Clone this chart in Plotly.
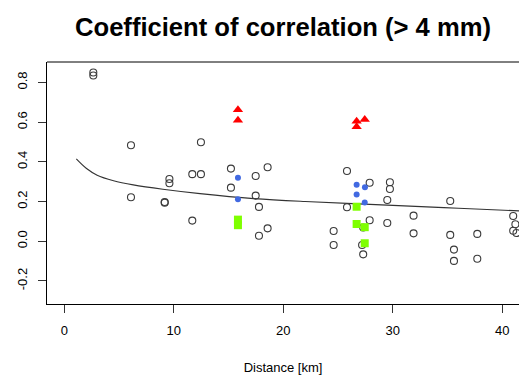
import plotly.graph_objects as go

# Open circles (all observations)
gray_x = [2.65, 2.65, 6.09, 6.09, 9.17, 9.17, 9.6, 9.6, 11.69, 11.69, 12.48, 12.48,
          15.22, 15.22, 17.48, 17.48, 17.78, 17.78, 18.57, 18.57, 24.6, 24.6,
          25.82, 25.82, 27.2, 27.3, 27.3, 27.89, 27.89, 29.5, 29.5, 29.74, 29.74,
          31.9, 31.9, 35.25, 35.25, 35.59, 35.59, 37.72, 37.72, 41.0, 41.2, 41.0, 41.3]
gray_y = [0.85, 0.835, 0.484, 0.222, 0.198, 0.194, 0.314, 0.292, 0.338, 0.104, 0.499, 0.338,
          0.366, 0.27, 0.329, 0.23, 0.173, 0.028, 0.373, 0.065, 0.052, -0.019,
          0.354, 0.171, -0.019, 0.069, -0.066, 0.295, 0.106, 0.208, 0.092, 0.297, 0.263,
          0.129, 0.04, 0.203, 0.032, -0.042, -0.099, 0.037, -0.088, 0.127, 0.086, 0.053, 0.042]

blue_x = [15.86, 15.86, 26.7, 27.46, 26.7, 27.44]
blue_y = [0.32, 0.212, 0.285, 0.272, 0.235, 0.195]

red_x = [15.86, 15.86, 26.7, 26.7, 27.44]
red_y = [0.663, 0.61, 0.605, 0.577, 0.613]

green_x = [15.86, 15.86, 26.7, 26.7, 27.44, 27.44]
green_y = [0.109, 0.081, 0.174, 0.087, 0.071, -0.01]

# Fitted curve
fit_x = [1.1, 2.0, 3.0, 4.5, 6.3, 9.0, 12.4, 17.3, 22.0, 30.0, 36.0, 41.6]
fit_y = [0.415, 0.368, 0.333, 0.305, 0.284, 0.262, 0.24, 0.215, 0.2, 0.181, 0.166, 0.153]

x_ticks = [0, 10, 20, 30, 40]
y_ticks = [-0.2, 0.0, 0.2, 0.4, 0.6, 0.8]
y_tick_text = ["-0.2", "0.0", "0.2", "0.4", "0.6", "0.8"]

FONT = "Liberation Sans, Arial, Helvetica, sans-serif"

fig = go.Figure()
fig.add_trace(go.Scatter(x=fit_x, y=fit_y, mode="lines",
                         line=dict(color="#333333", width=1.1, shape="spline"),
                         hoverinfo="skip"))
fig.add_trace(go.Scatter(x=gray_x, y=gray_y, mode="markers",
                         marker=dict(symbol="circle-open", size=7, color="#3a3a3a",
                                     line=dict(color="#3a3a3a", width=1.1))))
fig.add_trace(go.Scatter(x=blue_x, y=blue_y, mode="markers",
                         marker=dict(symbol="circle", size=6, color="#4169E1")))
fig.add_trace(go.Scatter(x=red_x, y=red_y, mode="markers",
                         marker=dict(symbol="triangle-up", size=9, color="#FF0000")))
fig.add_trace(go.Scatter(x=green_x, y=green_y, mode="markers",
                         marker=dict(symbol="square", size=8, color="#7FFF00")))

fig.update_layout(
    width=519, height=379,
    margin=dict(l=47, r=0, t=62, b=75),
    paper_bgcolor="white", plot_bgcolor="white",
    showlegend=False,
    font=dict(family=FONT, color="black", size=13),
    title=dict(text="<b>Coefficient of correlation (&gt; 4 mm)</b>",
               x=0.5, xref="paper", xanchor="center",
               y=1 - 27 / 379, yref="container", yanchor="middle",
               font=dict(family=FONT, size=25.6, color="black")),
    xaxis=dict(range=[-1.58, 41.53], tickvals=x_ticks, showgrid=False, zeroline=False,
               showline=True, linecolor="black", linewidth=1,
               ticks="outside", ticklen=8, tickwidth=1, tickcolor="#333",
               ticklabelstandoff=6,
               title=dict(text="Distance [km]", standoff=26,
                          font=dict(family=FONT, size=13))),
    yaxis=dict(range=[-0.316, 0.903], tickvals=y_ticks, ticktext=y_tick_text,
               showgrid=False, zeroline=False,
               showline=True, linecolor="black", linewidth=1,
               ticks="outside", ticklen=8, tickwidth=1, tickcolor="#333",
               tickangle=-90, ticklabelstandoff=6),
)
# top border of the box (right edge lies just outside the window)
fig.add_shape(type="line", xref="paper", yref="paper", x0=0, x1=1.02, y0=1, y1=1,
              line=dict(color="black", width=1))

fig.write_html("out.html")
